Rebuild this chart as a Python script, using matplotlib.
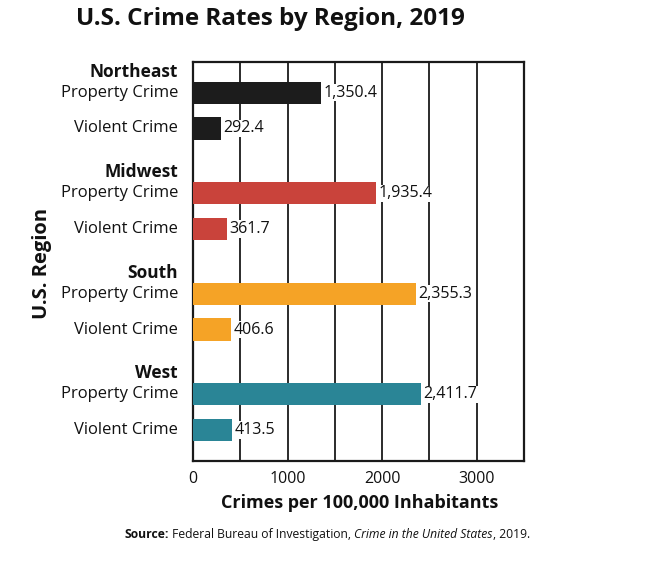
import matplotlib
matplotlib.use("Agg")
import matplotlib.pyplot as plt
import numpy as np

plt.rcParams['font.family'] = ['Open Sans', 'DejaVu Sans']

regions = ["Northeast", "Midwest", "South", "West"]
property_crime = [1350.4, 1935.4, 2355.3, 2411.7]
violent_crime = [292.4, 361.7, 406.6, 413.5]
colors = ["#1c1c1c", "#c9433b", "#f5a326", "#2a8596"]
xticks = [0, 1000, 2000, 3000]

fig = plt.figure(figsize=(6.56, 5.67), dpi=100)
fig.patch.set_facecolor('white')
ax = fig.add_axes([0.294, 0.187, 0.505, 0.704])

g = np.arange(len(regions))
y_prop = g * 1.0
y_viol = g * 1.0 + 0.356
h = 0.22

ax.barh(y_prop, property_crime, height=h, color=colors, edgecolor='none', zorder=3)
ax.barh(y_viol, violent_crime, height=h, color=colors, edgecolor='none', zorder=3)

for yp, yv, p, v in zip(y_prop, y_viol, property_crime, violent_crime):
    ax.text(p + 25, yp, f"{p:,.1f}", va='center', ha='left', fontsize=11.5,
            color='#111111', zorder=4,
            bbox=dict(facecolor='white', edgecolor='none', pad=0.5))
    ax.text(v + 25, yv, f"{v:,.1f}", va='center', ha='left', fontsize=11.5,
            color='#111111', zorder=4,
            bbox=dict(facecolor='white', edgecolor='none', pad=0.5))

ax.set_xlim(0, 3500)
ax.set_ylim(y_viol[-1] + 0.307, y_prop[0] - 0.307)
for xv in np.arange(500, 3500, 500):
    ax.axvline(xv, color='#1a1a1a', lw=1.3, zorder=1)

ax.set_xticks(xticks)
ax.set_xticklabels([str(t) for t in xticks], fontsize=11.5, color='#111111')
ax.tick_params(axis='x', length=0, pad=7)
ax.set_yticks([])
for s in ax.spines.values():
    s.set_linewidth(1.6)
    s.set_color('#1a1a1a')

# y labels
trans = ax.get_yaxis_transform()
for name, yp, yv in zip(regions, y_prop, y_viol):
    ax.text(-0.045, yp - 0.21, name, transform=trans, ha='right', va='center',
            fontsize=12.5, fontweight='bold', color='#111111')
    ax.text(-0.045, yp, "Property Crime", transform=trans, ha='right', va='center',
            fontsize=12, color='#111111')
    ax.text(-0.045, yv, "Violent Crime", transform=trans, ha='right', va='center',
            fontsize=12, color='#111111')

fig.text(0.064, 0.535, "U.S. Region", rotation=90, ha='center', va='center',
         fontsize=14.5, fontweight='bold', color='#111111')
fig.text(0.413, 0.966, "U.S. Crime Rates by Region, 2019", ha='center', va='center',
         fontsize=17.5, fontweight='bold', color='#111111')
fig.text(0.548, 0.113, "Crimes per 100,000 Inhabitants", ha='center', va='center',
         fontsize=13, fontweight='bold', color='#111111')

src = fig.text(0.19, 0.058, "Source:", ha='left', va='center', fontsize=8.7,
               fontweight='bold', color='#111111')
fig.canvas.draw()
r = fig.canvas.get_renderer()
bb = src.get_window_extent(r)
x = bb.x1 / fig.bbox.width
t1 = fig.text(x, 0.058, " Federal Bureau of Investigation, ", ha='left', va='center',
              fontsize=8.7, color='#111111')
bb = t1.get_window_extent(r)
x = bb.x1 / fig.bbox.width
t2 = fig.text(x, 0.058, "Crime in the United States", ha='left', va='center',
              fontsize=8.7, style='italic', color='#111111')
bb = t2.get_window_extent(r)
x = bb.x1 / fig.bbox.width
fig.text(x, 0.058, ", 2019.", ha='left', va='center', fontsize=8.7, color='#111111')

fig.savefig('out.png', dpi=100, facecolor='white')
